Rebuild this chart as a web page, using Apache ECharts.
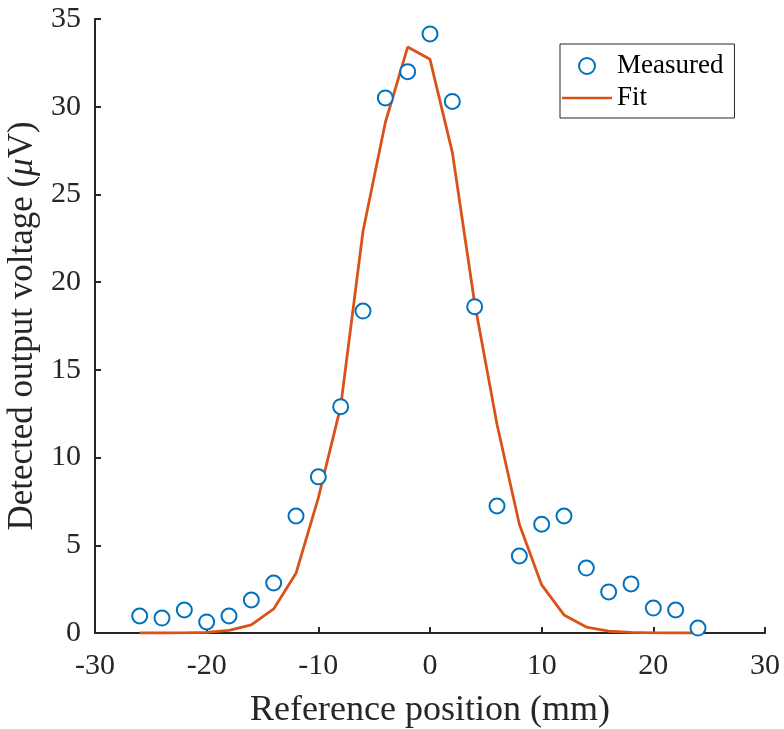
<!DOCTYPE html>
<html>
<head>
<meta charset="utf-8">
<script src="https://cdn.jsdelivr.net/npm/echarts@6/dist/echarts.min.js"></script>
<style>html,body{margin:0;padding:0;background:#fff;}#c{width:784px;height:729px;}</style>
</head>
<body>
<div id="c"></div>
<script>
var positions = [-26,-24,-22,-20,-18,-16,-14,-12,-10,-8,-6,-4,-2,0,2,4,6,8,10,12,14,16,18,20,22,24];
var measured = [0.97,0.85,1.31,0.63,0.97,1.88,2.85,6.67,8.9,12.9,18.35,30.5,32.0,34.15,30.3,18.6,7.24,4.39,6.2,6.67,3.7,2.34,2.8,1.42,1.31,0.28];
var fit = [0.0,0.0,0.01,0.03,0.15,0.46,1.37,3.4,7.7,12.9,22.9,29.1,33.4,32.7,27.4,18.8,11.9,6.2,2.74,1.03,0.34,0.1,0.03,0.01,0.0,0.0];
var xTicks = [-30,-20,-10,0,10,20,30];
var yTicks = [0,5,10,15,20,25,30,35];

var font = 'Liberation Serif';
var ink = '#262626';
var chart = echarts.init(document.getElementById('c'), null, {renderer:'canvas'});
chart.setOption({
  backgroundColor:'#ffffff',
  animation:false,
  grid:{left:95,right:19,top:19,bottom:96,containLabel:false,outerBoundsMode:'none'},
  legend:{
    left:560, top:44,
    orient:'vertical',
    backgroundColor:'#ffffff',
    borderColor:ink, borderWidth:1, borderRadius:0,
    padding:[7,11,5,2],
    itemWidth:50, itemHeight:16, itemGap:2,
    textStyle:{fontFamily:font,fontSize:27,color:'#000',lineHeight:30},
    data:[
      {name:'Measured',icon:'emptyCircle'},
      {name:'Fit',icon:'path://M0,0L40,0L40,2L0,2Z',itemStyle:{color:'#D95319'}}
    ]
  },
  xAxis:{
    type:'value', min:xTicks[0], max:xTicks[xTicks.length-1], interval:10,
    name:'Reference position (mm)', nameLocation:'middle', nameGap:60,
    nameTextStyle:{fontFamily:font,fontSize:36,color:ink},
    axisLine:{show:true,onZero:false,lineStyle:{color:ink,width:2}},
    axisTick:{show:true,inside:true,length:6,lineStyle:{color:ink,width:2}},
    axisLabel:{fontFamily:font,fontSize:30,color:ink,margin:18},
    splitLine:{show:false}
  },
  yAxis:{
    type:'value', min:yTicks[0], max:yTicks[yTicks.length-1], interval:5,
    name:'Detected output voltage ({i|μ}V)', nameLocation:'middle', nameGap:43, nameRotate:90,
    nameTextStyle:{fontFamily:font,fontSize:35,color:ink,rich:{i:{fontFamily:font,fontSize:35,fontStyle:'italic',color:ink}}},
    axisLine:{show:true,onZero:false,lineStyle:{color:ink,width:2}},
    axisTick:{show:true,inside:true,length:6,lineStyle:{color:ink,width:2}},
    axisLabel:{fontFamily:font,fontSize:30,color:ink,margin:14},
    splitLine:{show:false}
  },
  series:[
    {
      name:'Fit', type:'line', z:2,
      data:positions.map(function(x,i){return [x,fit[i]];}),
      showSymbol:false, symbol:'none',
      lineStyle:{color:'#D95319',width:2.8},
      itemStyle:{color:'#D95319'}
    },
    {
      name:'Measured', type:'scatter', z:3,
      data:positions.map(function(x,i){return [x,measured[i]];}),
      symbol:'emptyCircle', symbolSize:15,
      itemStyle:{color:'#0072BD',borderColor:'#0072BD',borderWidth:2,opacity:1}
    }
  ]
});
</script>
</body>
</html>
